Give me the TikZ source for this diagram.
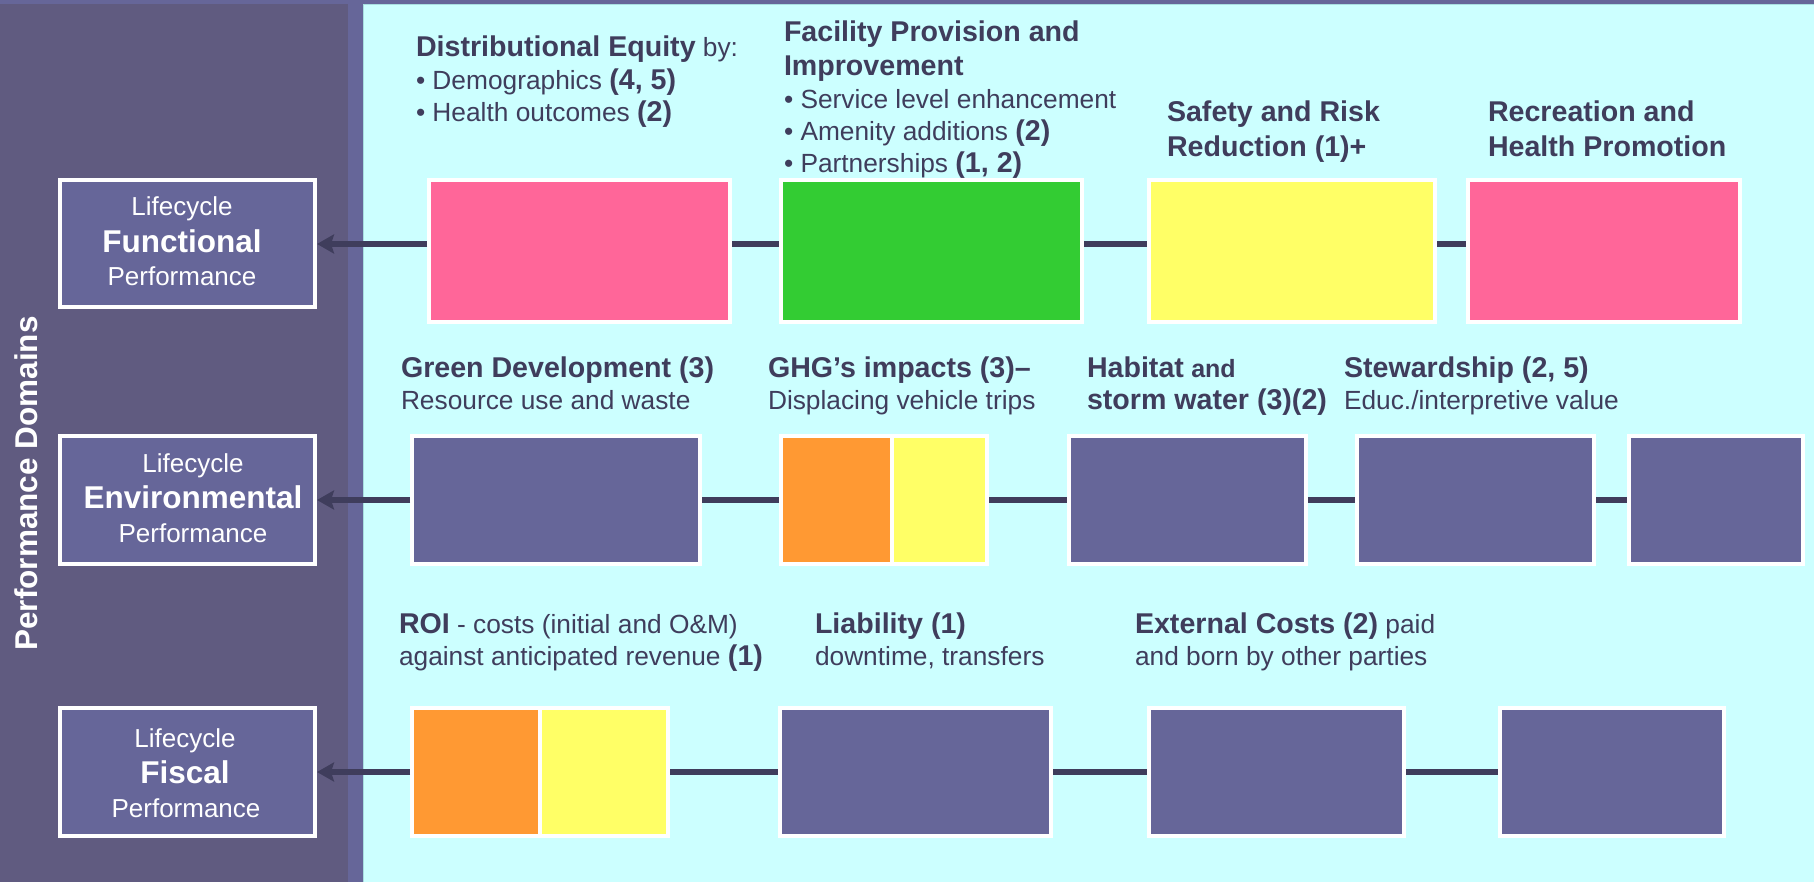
\documentclass[tikz,border=0pt]{standalone}
\usepackage{fontspec}
\setmainfont{Liberation Sans}
\usetikzlibrary{arrows.meta}
\definecolor{bgpurple}{HTML}{666699}
\definecolor{panel}{HTML}{605B80}
\definecolor{cyanbg}{HTML}{CCFFFF}
\definecolor{cyanedge}{HTML}{A8DEE0}
\definecolor{ink}{HTML}{3F3D5C}
\definecolor{cpink}{HTML}{FF6699}
\definecolor{cgreen}{HTML}{33CC33}
\definecolor{cyellow}{HTML}{FFFF66}
\definecolor{corange}{HTML}{FF9933}
\newcommand{\B}[1]{{\bfseries\fontsize{28.6}{33}\selectfont #1}}
\tikzset{
  cell/.style={draw=white, line width=4pt, inner sep=0pt, rectangle},
  domainbox/.style={cell, fill=bgpurple, minimum width=255pt},
  txt/.style={anchor=base west, inner sep=0pt, outer sep=0pt, text=ink, font=\fontsize{26.3}{30}\selectfont},
  wtxt/.style={anchor=base, inner sep=0pt, outer sep=0pt, text=white, font=\fontsize{26}{30}\selectfont},
  wbold/.style={anchor=base, inner sep=0pt, outer sep=0pt, text=white, font=\bfseries\fontsize{31.5}{36}\selectfont},
  conn/.style={draw=ink, line width=6.5pt},
  arr/.style={conn, -{Stealth[length=17pt, width=19pt, inset=3pt]}}
}
\begin{document}
\begin{tikzpicture}[x=1pt, y=-1pt]
\useasboundingbox (0,0) rectangle (1814,882);
% panels
\fill[bgpurple] (0,0) rectangle (1814,882);
\fill[panel] (0,4) rectangle (348,882);
\filldraw[fill=cyanbg, draw=cyanedge, line width=1pt] (363.5,4.5) rectangle (1816,884);

% vertical title
\node[rotate=90, anchor=base, inner sep=0pt, text=white, font=\bfseries\fontsize{31.5}{36}\selectfont] (pd) at (37,483.5) {Performance Domains};

% domain boxes
\node[domainbox, minimum height=127pt] (L1) at (187.5,243.5) {};
\node[domainbox, minimum height=128pt] (L2) at (187.5,500) {};
\node[domainbox, minimum height=128pt] (L3) at (187.5,772) {};
\node[wtxt]  (L1a) at (182,216) {Lifecycle};
\node[wbold] (L1b) at (182,253) {Functional};
\node[wtxt]  (L1c) at (182,286) {Performance};
\node[wtxt]  (L2a) at (193,472) {Lifecycle};
\node[wbold] (L2b) at (193,508) {Environmental};
\node[wtxt]  (L2c) at (193,542) {Performance};
\node[wtxt]  (L3a) at (185,747) {Lifecycle};
\node[wbold] (L3b) at (185,783) {Fiscal};
\node[wtxt]  (L3c) at (186,817) {Performance};

% row 1 boxes
\node[cell, fill=cpink,   minimum width=301pt, minimum height=142pt] (p1) at (579.5,251) {};
\node[cell, fill=cgreen,  minimum width=301pt, minimum height=142pt] (g1) at (931.5,251) {};
\node[cell, fill=cyellow, minimum width=286pt, minimum height=142pt] (y1) at (1292,251) {};
\node[cell, fill=cpink,   minimum width=272pt, minimum height=142pt] (p2) at (1604,251) {};
% row 2 boxes
\node[cell, fill=bgpurple, minimum width=288pt, minimum height=128pt] (e1) at (556,500) {};
\node[cell, fill=corange,  minimum width=111pt, minimum height=128pt] (e2a) at (836.5,500) {};
\node[cell, fill=cyellow,  minimum width=95pt,  minimum height=128pt] (e2b) at (939.5,500) {};
\node[cell, fill=bgpurple, minimum width=237pt, minimum height=128pt] (e3) at (1187.5,500) {};
\node[cell, fill=bgpurple, minimum width=237pt, minimum height=128pt] (e4) at (1475.5,500) {};
\node[cell, fill=bgpurple, minimum width=174pt, minimum height=128pt] (e5) at (1716,500) {};
% row 3 boxes
\node[cell, fill=corange,  minimum width=128pt, minimum height=128pt] (f1a) at (476,772) {};
\node[cell, fill=cyellow,  minimum width=128pt, minimum height=128pt] (f1b) at (604,772) {};
\node[cell, fill=bgpurple, minimum width=271pt, minimum height=128pt] (f2) at (915.5,772) {};
\node[cell, fill=bgpurple, minimum width=255pt, minimum height=128pt] (f3) at (1276.5,772) {};
\node[cell, fill=bgpurple, minimum width=224pt, minimum height=128pt] (f4) at (1612,772) {};

% connectors row 1
\draw[arr] ([yshift=7pt]p1.west) -- ([yshift=7pt]p1.west -| L1.east);
\draw[conn] ([yshift=7pt]p1.east) -- ([yshift=7pt]g1.west);
\draw[conn] ([yshift=7pt]g1.east) -- ([yshift=7pt]y1.west);
\draw[conn] ([yshift=7pt]y1.east) -- ([yshift=7pt]p2.west);
% connectors row 2
\draw[arr] (e1.west) -- (L2.east);
\draw[conn] (e1.east) -- (e2a.west);
\draw[conn] (e2b.east) -- (e3.west);
\draw[conn] (e3.east) -- (e4.west);
\draw[conn] (e4.east) -- (e5.west);
% connectors row 3
\draw[arr] (f1a.west) -- (L3.east);
\draw[conn] (f1b.east) -- (f2.west);
\draw[conn] (f2.east) -- (f3.west);
\draw[conn] (f3.east) -- (f4.west);

% texts row 1
\node[txt] (t1a) at (416,57)  {\B{Distributional Equity} by:};
\node[txt] (t1b) at (416,90)  {• Demographics \B{(4, 5)}};
\node[txt] (t1c) at (416,122) {• Health outcomes \B{(2)}};
\node[txt] (t2a) at (784,42)  {\B{Facility Provision and}};
\node[txt] (t2b) at (784,76)  {\B{Improvement}};
\node[txt] (t2c) at (784,109) {• Service level enhancement};
\node[txt] (t2d) at (784,141) {• Amenity additions \B{(2)}};
\node[txt] (t2e) at (784,173) {• Partnerships \B{(1, 2)}};
\node[txt] (t3a) at (1167,122) {\B{Safety and Risk}};
\node[txt] (t3b) at (1167,157) {\B{Reduction (1)+}};
\node[txt] (t4a) at (1488,122) {\B{Recreation and}};
\node[txt] (t4b) at (1488,157) {\B{Health Promotion}};
% texts row 2
\node[txt] (t5a) at (401,377) {\B{Green Development (3)}};
\node[txt] (t5b) at (401,409) {Resource use and waste};
\node[txt] (t6a) at (768,377) {\B{GHG’s impacts (3)–}};
\node[txt] (t6b) at (768,409) {Displacing vehicle trips};
\node[txt] (t7a) at (1087,377) {\B{Habitat} {\bfseries\fontsize{25}{30}\selectfont and}};
\node[txt] (t7b) at (1087,409) {\B{storm water (3)(2)}};
\node[txt] (t8a) at (1344,377) {\B{Stewardship (2, 5)}};
\node[txt] (t8b) at (1344,409) {Educ./interpretive value};
% texts row 3
\node[txt] (t9a) at (399,633) {\B{ROI} - costs (initial and O\&M)};
\node[txt] (t9b) at (399,665) {against anticipated revenue \B{(1)}};
\node[txt] (t10a) at (815,633) {\B{Liability (1)}};
\node[txt] (t10b) at (815,665) {downtime, transfers};
\node[txt] (t11a) at (1135,633) {\B{External Costs (2)} paid};
\node[txt] (t11b) at (1135,665) {and born by other parties};
\end{tikzpicture}
\end{document}
